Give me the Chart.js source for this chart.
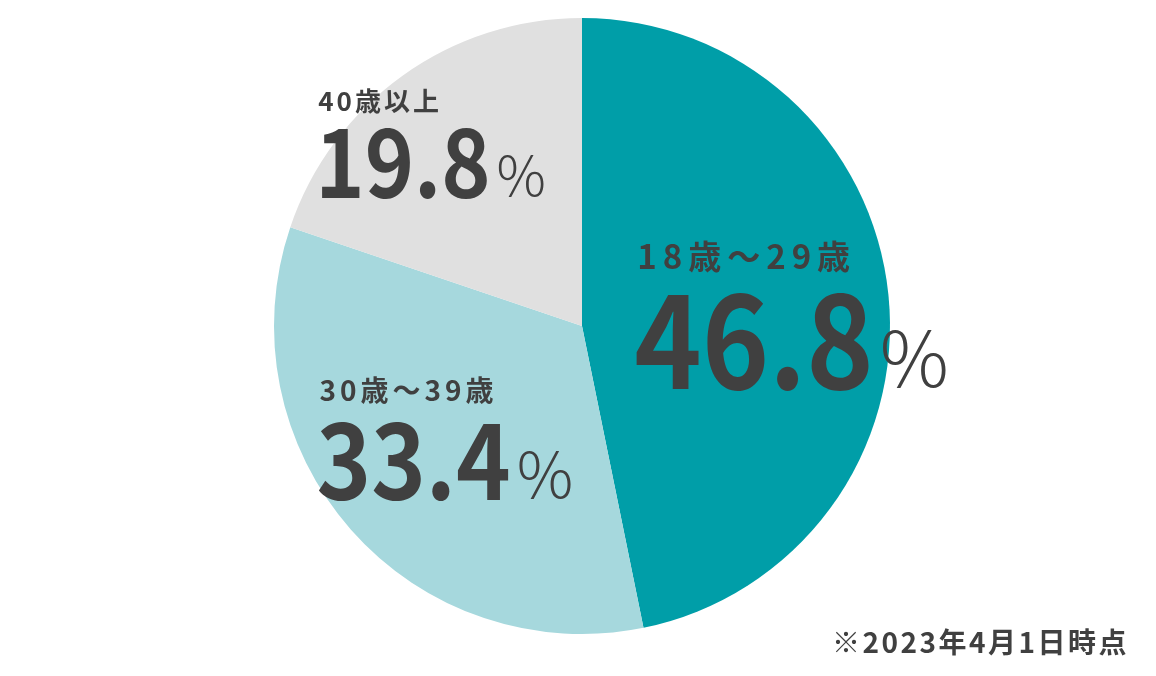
<!DOCTYPE html>
<html lang="ja">
<head>
<meta charset="utf-8">
<title>年齢構成</title>
<script src="https://cdn.jsdelivr.net/npm/chart.js@4/dist/chart.umd.min.js"></script>
<style>
  html, body { margin: 0; padding: 0; background: #fff; }
  #wrap { width: 1156px; height: 676px; position: relative; }
</style>
</head>
<body>
<div id="wrap"><canvas id="ageChart"></canvas></div>
<script>
// data
const ageGroups = ['18歳～29歳', '30歳～39歳', '40歳以上'];
const agePercents = [46.8, 33.4, 19.8];
const sliceColors = ['#009ea8', '#a6d8dd', '#e0e0e0'];
const noteText = '※2023年4月1日時点';

const FONT = '"Noto Sans CJK JP", "Noto Sans", sans-serif';
const TEXT_COLOR = '#404040';
const NUM_SQUEEZE = 0.9; // numbers in the original are a bit narrow

// label layout per slice, offset from the arc's centre point
const labelLayout = [
    { dx: -98, dy: -42, labelSize: 33, numSize: 127, pctSize: 77, gap: 120, spacing: 6 },
    { dx: -147, dy: -27, labelSize: 28, numSize: 103, pctSize: 63, gap: 99, spacing: 4 },
    { dx: -174, dy: -90, labelSize: 26, numSize: 93, pctSize: 55, gap: 87, spacing: 3 }
];

const sliceLabels = {
    id: 'sliceLabels',
    afterDatasetsDraw(chart) {
        const ctx = chart.ctx;
        const meta = chart.getDatasetMeta(0);
        ctx.save();
        ctx.fillStyle = TEXT_COLOR;
        ctx.textAlign = 'left';
        ctx.textBaseline = 'alphabetic';
        meta.data.forEach((arc, i) => {
            const pos = arc.tooltipPosition();
            const lay = labelLayout[i];
            const x = pos.x + lay.dx;
            const y = pos.y + lay.dy;

            ctx.font = `bold ${lay.labelSize}px ${FONT}`;
            ctx.letterSpacing = lay.spacing + 'px';
            ctx.fillText(chart.data.labels[i], x, y);

            // big number
            ctx.letterSpacing = '0px';
            ctx.font = `bold ${lay.numSize}px ${FONT}`;
            const numStr = agePercents[i].toFixed(1);
            const nx = x - 3;
            const ny = y + lay.gap;
            ctx.save();
            ctx.translate(nx, ny);
            ctx.scale(NUM_SQUEEZE, 1);
            ctx.fillText(numStr, 0, 0);
            ctx.restore();
            const w = ctx.measureText(numStr).width * NUM_SQUEEZE;

            ctx.font = `300 ${lay.pctSize}px ${FONT}`;
            ctx.fillText('%', nx + w + 6, ny - 2);
        });

        // footnote
        ctx.font = `bold 28px ${FONT}`;
        ctx.letterSpacing = '2.5px';
        ctx.textAlign = 'left';
        ctx.fillText(noteText, 832, 653);
        ctx.restore();
    }
};

const ctx = document.getElementById('ageChart').getContext('2d');
new Chart(ctx, {
    type: 'pie',
    data: {
        labels: ageGroups,
        datasets: [{
            data: agePercents,
            backgroundColor: sliceColors,
            borderWidth: 0
        }]
    },
    options: {
        responsive: true,
        maintainAspectRatio: false,
        animation: false,
        layout: { padding: { left: 274, right: 266, top: 18, bottom: 42 } },
        plugins: {
            legend: { display: false },
            tooltip: { enabled: false }
        }
    },
    plugins: [sliceLabels]
});
</script>
</body>
</html>
